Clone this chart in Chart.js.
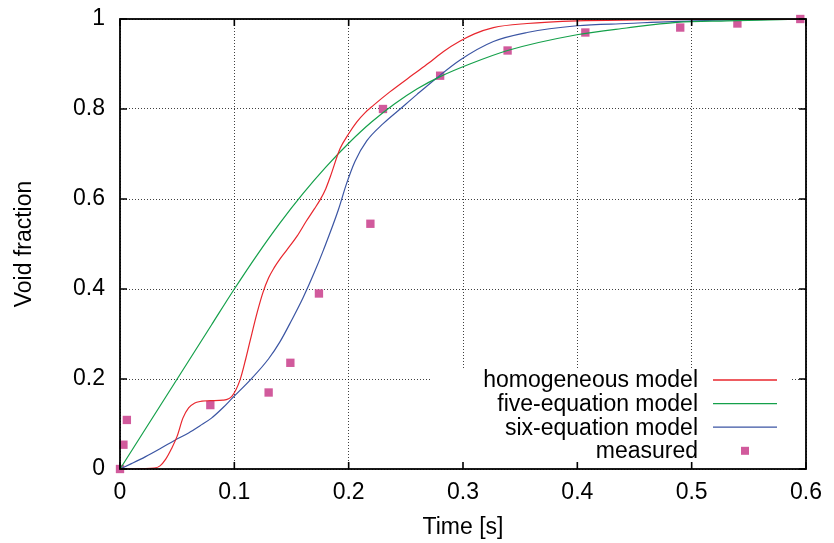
<!DOCTYPE html>
<html>
<head>
<meta charset="utf-8">
<script src="https://cdn.jsdelivr.net/npm/chart.js@4/dist/chart.umd.min.js"></script>
<style>
  html, body { margin: 0; padding: 0; background: #fff; }
  #wrap { width: 834px; height: 543px; }
</style>
</head>
<body>
<div id="wrap"><canvas id="void_chart"></canvas></div>
<script>
// values
const homogTime = [0, 0.010, 0.020, 0.030, 0.035, 0.040, 0.045, 0.050, 0.055, 0.060, 0.065, 0.070, 0.080, 0.090, 0.098, 0.105, 0.110, 0.114, 0.120, 0.125, 0.130, 0.135, 0.140, 0.146, 0.155, 0.163, 0.170, 0.175, 0.180, 0.184, 0.1925, 0.200, 0.207, 0.214, 0.2216, 0.236, 0.2566, 0.270, 0.283, 0.2975, 0.310, 0.3266, 0.356, 0.400, 0.450, 0.500, 0.600];
const homogVoid = [0, 0, 0.001, 0.002, 0.007, 0.022, 0.045, 0.073, 0.113, 0.136, 0.146, 0.150, 0.152, 0.153, 0.162, 0.198, 0.245, 0.287, 0.348, 0.392, 0.425, 0.448, 0.467, 0.487, 0.518, 0.551, 0.578, 0.598, 0.623, 0.650, 0.712, 0.745, 0.771, 0.791, 0.808, 0.838, 0.877, 0.902, 0.928, 0.951, 0.967, 0.981, 0.990, 0.996, 0.998, 0.999, 1.0];

const fiveTime = [0, 0.02, 0.04, 0.06, 0.08, 0.10, 0.12, 0.14, 0.16, 0.18, 0.20, 0.22, 0.24, 0.26, 0.28, 0.306, 0.339, 0.3996, 0.443, 0.487, 0.531, 0.60];
const fiveVoid = [0, 0.08, 0.16, 0.24, 0.32, 0.40, 0.476, 0.547, 0.612, 0.671, 0.724, 0.771, 0.811, 0.845, 0.872, 0.900, 0.930, 0.965, 0.980, 0.9926, 0.996, 1.0];

const sixTime = [0, 0.010, 0.022, 0.035, 0.048, 0.060, 0.070, 0.080, 0.090, 0.098, 0.114, 0.130, 0.140, 0.150, 0.160, 0.170, 0.178, 0.191, 0.198, 0.2056, 0.2158, 0.2304, 0.245, 0.2596, 0.277, 0.2975, 0.3266, 0.356, 0.3996, 0.443, 0.5016, 0.600];
const sixVoid = [0, 0.012, 0.027, 0.045, 0.064, 0.080, 0.096, 0.113, 0.136, 0.157, 0.198, 0.245, 0.283, 0.330, 0.380, 0.437, 0.487, 0.576, 0.633, 0.684, 0.729, 0.768, 0.800, 0.832, 0.869, 0.909, 0.950, 0.970, 0.985, 0.990, 0.996, 1.0];

const measTime = [0, 0.003, 0.006, 0.079, 0.130, 0.149, 0.174, 0.219, 0.230, 0.280, 0.339, 0.407, 0.490, 0.540, 0.595];
const measVoid = [0, 0.054, 0.109, 0.142, 0.170, 0.236, 0.390, 0.545, 0.800, 0.874, 0.930, 0.970, 0.981, 0.990, 1.0];

const xTicks = [0, 0.1, 0.2, 0.3, 0.4, 0.5, 0.6];
const yTicks = [0, 0.2, 0.4, 0.6, 0.8, 1];

const seriesNames = ['homogeneous model', 'five-equation model', 'six-equation model', 'measured'];
const seriesColors = ['#e8262d', '#14a04a', '#3b55a3', '#d15a9c'];

const toPoints = (xs, ys) => xs.map((x, i) => ({ x: x, y: ys[i] }));

const FONT = "'Liberation Sans', Arial, Helvetica, sans-serif";

// gnuplot style frame with inward ticks on all four sides
const framePlugin = {
    id: 'frame',
    afterDatasetsDraw(chart) {
        const ctx = chart.ctx;
        const a = chart.chartArea;
        const xs = chart.scales.x, ys = chart.scales.y;
        const len = 7;
        ctx.save();
        ctx.strokeStyle = '#000';
        ctx.lineWidth = 1.6;
        ctx.beginPath();
        xs.ticks.forEach(t => {
            const px = xs.getPixelForValue(t.value);
            ctx.moveTo(px, a.bottom); ctx.lineTo(px, a.bottom - len);
            ctx.moveTo(px, a.top); ctx.lineTo(px, a.top + len);
        });
        ys.ticks.forEach(t => {
            const py = ys.getPixelForValue(t.value);
            ctx.moveTo(a.left, py); ctx.lineTo(a.left + len, py);
            ctx.moveTo(a.right, py); ctx.lineTo(a.right - len, py);
        });
        ctx.stroke();
        ctx.lineWidth = 1.8;
        ctx.strokeRect(a.left, a.top, a.right - a.left, a.bottom - a.top);
        ctx.restore();
    }
};

// legend in the lower right corner, text right aligned, sample on the right
const keyPlugin = {
    id: 'key',
    beforeDatasetsDraw(chart) {
        const ctx = chart.ctx;
        const a = chart.chartArea;
        ctx.save();
        ctx.fillStyle = '#fff';
        ctx.fillRect(a.left + 312, a.bottom - 101, 358, 99);
        ctx.font = '23px ' + FONT;
        ctx.textAlign = 'right';
        ctx.textBaseline = 'middle';
        const rowH = 23.6;
        const firstY = a.bottom - 89;
        chart.data.datasets.forEach((ds, i) => {
            const y = firstY + i * rowH;
            ctx.fillStyle = '#000';
            ctx.fillText(ds.label, a.right - 108, y + 1);
            if (ds.showLine) {
                ctx.strokeStyle = ds.borderColor;
                ctx.lineWidth = 1.3;
                ctx.beginPath();
                ctx.moveTo(a.right - 93, y);
                ctx.lineTo(a.right - 29, y);
                ctx.stroke();
            } else {
                ctx.fillStyle = ds.backgroundColor;
                ctx.fillRect(a.right - 65, y - 4, 8, 8);
            }
        });
        ctx.restore();
    }
};

const lineSet = (i, pts) => ({
    label: seriesNames[i],
    data: pts,
    showLine: true,
    borderColor: seriesColors[i],
    backgroundColor: seriesColors[i],
    borderWidth: 1.2,
    pointRadius: 0,
    cubicInterpolationMode: 'monotone'
});

const ctx = document.getElementById('void_chart').getContext('2d');
const chart = new Chart(ctx, {
    type: 'scatter',
    data: {
        datasets: [
            lineSet(0, toPoints(homogTime, homogVoid)),
            lineSet(1, toPoints(fiveTime, fiveVoid)),
            lineSet(2, toPoints(sixTime, sixVoid)),
            {
                label: seriesNames[3],
                data: toPoints(measTime, measVoid),
                showLine: false,
                pointStyle: 'rect',
                pointRadius: 5.9,
                pointHoverRadius: 5.9,
                borderWidth: 0,
                backgroundColor: seriesColors[3],
                borderColor: seriesColors[3],
                clip: false
            }
        ]
    },
    options: {
        responsive: true,
        maintainAspectRatio: false,
        animation: false,
        events: [],
        layout: { padding: { top: 19, right: 28, bottom: 0, left: 0 } },
        plugins: {
            legend: { display: false },
            tooltip: { enabled: false }
        },
        scales: {
            x: {
                type: 'linear',
                min: 0, max: 0.6,
                afterBuildTicks: (s) => { s.ticks = xTicks.map(v => ({ value: v })); },
                afterFit: (s) => { s.height = 74; s.paddingLeft = 0; s.paddingRight = 0; },
                ticks: {
                    padding: 10,
                    color: '#000',
                    font: { family: FONT, size: 23 },
                    maxRotation: 0,
                    callback: (v) => String(v)
                },
                grid: { color: 'rgba(0,0,0,0.75)', lineWidth: 1, drawTicks: false },
                border: { display: false, dash: [1, 2] },
                title: {
                    display: true,
                    text: 'Time [s]',
                    color: '#000',
                    font: { family: FONT, size: 23 },
                    padding: { top: 0, bottom: 2 }
                }
            },
            y: {
                type: 'linear',
                min: 0, max: 1,
                afterBuildTicks: (s) => { s.ticks = yTicks.map(v => ({ value: v })); },
                afterFit: (s) => { s.width = 120; s.paddingTop = 0; s.paddingBottom = 0; },
                ticks: {
                    padding: 15,
                    color: '#000',
                    font: { family: FONT, size: 23 },
                    callback: (v) => String(v)
                },
                grid: { color: 'rgba(0,0,0,0.75)', lineWidth: 1, drawTicks: false },
                border: { display: false, dash: [1, 2] },
                title: {
                    display: true,
                    text: 'Void fraction',
                    color: '#000',
                    font: { family: FONT, size: 23 },
                    padding: { top: 11, bottom: 0 }
                }
            }
        }
    },
    plugins: [keyPlugin, framePlugin]
});
</script>
</body>
</html>
